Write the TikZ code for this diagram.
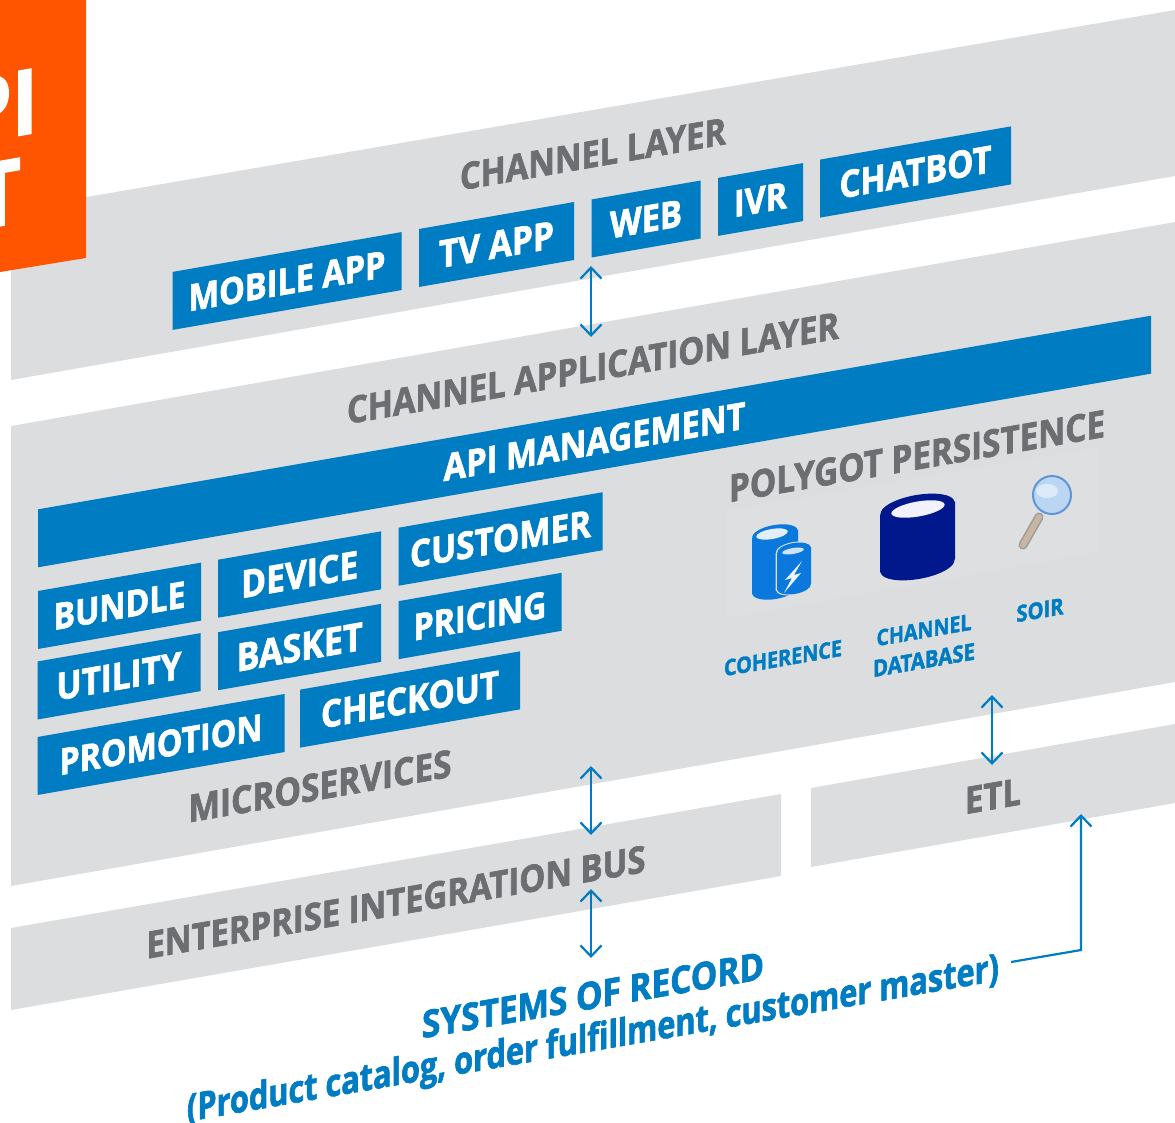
\documentclass[tikz,border=0pt]{standalone}
\usepackage{fontspec}
\usepackage{graphicx}
\setmainfont[FakeStretch=0.88,BoldFeatures={FakeStretch=0.88,FakeBold=1.8}]{Open Sans}
\usetikzlibrary{arrows.meta}
\definecolor{panelgray}{HTML}{DCDDDF}
\definecolor{patchgray}{HTML}{DEDFE1}
\definecolor{labelgray}{HTML}{6D6E71}
\definecolor{mainblue}{HTML}{007CC3}
\definecolor{apiorange}{HTML}{FF5500}
\definecolor{cohblue}{HTML}{0A78DC}
\definecolor{dbnavy}{HTML}{00188C}
\definecolor{lensblue}{HTML}{BBD6F2}
\definecolor{lensedge}{HTML}{5E95D6}
\definecolor{handletan}{HTML}{C9B6A2}
\definecolor{handleedge}{HTML}{9A9A98}
\newcommand\fitw[2]{\resizebox{#1pt}{!}{\fontsize{30}{36}\selectfont\bfseries #2}}
% cylinder: centre x, top y, bottom y, x radius, y radius, colour
\newcommand\cylshape[6]{%
  \fill[#6] ({#1-#4},{#2+0.174*#4}) -- ({#1-#4},{#3+0.174*#4}) -- ({#1+#4},{#3-0.174*#4}) -- ({#1+#4},{#2-0.174*#4}) -- cycle;
  \fill[#6] (#1,#2) ellipse [x radius=#4pt,y radius=#5pt,rotate=10];
  \fill[#6] (#1,#3) ellipse [x radius=#4pt,y radius=#5pt,rotate=10];
}
\tikzset{
  skewed/.style={yslant=0.174,inner sep=0pt,outer sep=0pt},
  bluebox/.style={skewed,fill=mainblue,text=white,minimum height=58pt},
  graylabel/.style={skewed,text=labelgray},
  bluelabel/.style={skewed,text=mainblue},
  panel/.style={fill=panelgray,draw=none},
  link/.style={draw=mainblue,line width=2.2pt},
  dblarrow/.style={link,{Straight Barb[length=11pt,width=21pt,line width=2.2pt]}-{Straight Barb[length=11pt,width=21pt,line width=2.2pt]}},
  onearrow/.style={link,-{Straight Barb[length=11pt,width=21pt,line width=2.2pt]}}
}
\begin{document}
\begin{tikzpicture}[x=1pt,y=-1pt]
\useasboundingbox (0,0) rectangle (1175,1123);
% panels
\fill[panel] (11,210) -- (1175,10) -- (1175,176) -- (11,380) -- cycle;
\fill[panel] (11,426) -- (1175,222) -- (1175,682) -- (11,886) -- cycle;
\fill[panel] (11,928) -- (781,794) -- (781,876) -- (11,1010) -- cycle;
\fill[panel] (811,788) -- (1175,724) -- (1175,803) -- (811,867) -- cycle;
\fill[patchgray] (727,510) -- (1098,447) -- (1098,552) -- (727,618) -- cycle;
% orange block
\fill[apiorange] (0,0) -- (86,0) -- (86,258) -- (0,272) -- cycle;
\begin{scope}
\clip (0,0) rectangle (86,272);
\node[skewed,text=white,anchor=east] (pi) at (38,100) {\fontsize{90}{100}\selectfont\bfseries PI};
\node[skewed,text=white,anchor=east] (tt) at (21,190) {\fontsize{90}{100}\selectfont\bfseries T};
\end{scope}
% channel layer
\node[graylabel] (chlayer) at (593,154) {\fitw{266}{CHANNEL LAYER}};
\node[bluebox,minimum width=229pt] (mobile) at (287,281) {\fitw{197}{MOBILE APP}};
\node[bluebox,minimum width=155pt] (tvapp) at (496.5,244.5) {\fitw{115}{TV APP}};
\node[bluebox,minimum width=109pt] (web) at (646,219) {\fitw{72}{WEB}};
\node[bluebox,minimum width=85pt] (ivr) at (760.5,199.5) {\fitw{53}{IVR}};
\node[bluebox,minimum width=191pt] (chatbot) at (915.5,172) {\fitw{152}{CHATBOT}};
% application layer
\node[graylabel] (applayer) at (593,368) {\fitw{492}{CHANNEL APPLICATION LAYER}};
\node[bluebox,minimum width=1113pt] (api) at (594.5,441.5) {\fitw{302}{API MANAGEMENT}};
\node[bluebox,minimum width=163pt] (bundle) at (119.5,605.8) {\fitw{132}{BUNDLE}};
\node[bluebox,minimum width=163pt] (utility) at (119,676.3) {\fitw{125}{UTILITY}};
\node[bluebox,minimum width=247pt] (promotion) at (161,744.5) {\fitw{203}{PROMOTION}};
\node[bluebox,minimum width=163pt] (device) at (299.7,574.5) {\fitw{117}{DEVICE}};
\node[bluebox,minimum width=163pt] (basket) at (299.7,647) {\fitw{126}{BASKET}};
\node[bluebox,minimum width=204pt] (customer) at (500.5,539) {\fitw{181}{CUSTOMER}};
\node[bluebox,minimum width=163pt] (pricing) at (480,616) {\fitw{133}{PRICING}};
\node[bluebox,minimum width=220pt] (checkout) at (410,699.5) {\fitw{178}{CHECKOUT}};
\node[graylabel] (micro) at (320,786) {\fitw{263}{MICROSERVICES}};
\node[graylabel] (poly) at (917,456) {\fitw{376}{POLYGOT PERSISTENCE}};
% coherence icon
\cylshape{775}{534}{590}{23}{9}{cohblue}
\fill[white!88!cohblue] (772,534) ellipse [x radius=16pt,y radius=5pt,rotate=10];
\cylshape{794}{550}{587}{18.5}{8}{patchgray}
\cylshape{794}{550}{587}{17}{7}{cohblue}
\fill[white!80!cohblue] (793,551) ellipse [x radius=11pt,y radius=3pt,rotate=10];
\fill[white!92!cohblue] (802,561) -- (785,580) -- (792,578) -- (784,593) -- (801,573) -- (794,575) -- cycle;
% database icon
\cylshape{917.5}{508}{566}{37.5}{13}{dbnavy}
\fill[white!95!blue] (918,509) ellipse [x radius=27pt,y radius=7.5pt,rotate=10];
% magnifier icon
\draw[line cap=round,line width=9pt,draw=handleedge] (1039,517) -- (1023,545);
\draw[line cap=round,line width=6pt,draw=handletan] (1039,517) -- (1023,545);
\fill[lensblue,draw=lensedge,line width=2pt] (1052,495) circle [radius=19pt];
\fill[white,opacity=.5] (1047,491) ellipse [x radius=11pt,y radius=7pt];
% persistence labels
\node[bluelabel] (coh) at (783,658) {\fitw{118}{COHERENCE}};
\node[bluelabel] (chan) at (924,630) {\fitw{95}{CHANNEL}};
\node[bluelabel] (db) at (924,660) {\fitw{102}{DATABASE}};
\node[bluelabel] (soir) at (1040,610) {\fitw{47}{SOIR}};
% bus + etl
\node[graylabel] (eib) at (396,902) {\fitw{499}{ENTERPRISE INTEGRATION BUS}};
\node[graylabel] (etl) at (993,796) {\fitw{56}{ETL}};
% systems of record
\node[bluelabel] (sor) at (593,995) {\fitw{342}{SYSTEMS OF RECORD}};
\node[bluelabel] (sorb) at (593,1041) {\resizebox{812pt}{29pt}{\fontsize{30}{36}\selectfont\bfseries (Product catalog, order fulfillment, customer master)}};
% connectors
\coordinate (a1t) at (591,266); \coordinate (a1b) at (591,337);
\coordinate (a2t) at (591,766); \coordinate (a2b) at (591,835);
\coordinate (a3t) at (591,889); \coordinate (a3b) at (591,958);
\coordinate (a4t) at (992,695); \coordinate (a4b) at (992,765);
\coordinate (e1) at (1011,962); \coordinate (e2) at (1081,950); \coordinate (e3) at (1081,814);
\draw[dblarrow] (a1t) -- (a1b);
\draw[dblarrow] (a2t) -- (a2b);
\draw[dblarrow] (a3t) -- (a3b);
\draw[dblarrow] (a4t) -- (a4b);
\draw[onearrow] (e1) -- (e2) -- (e3);
\end{tikzpicture}
\end{document}
